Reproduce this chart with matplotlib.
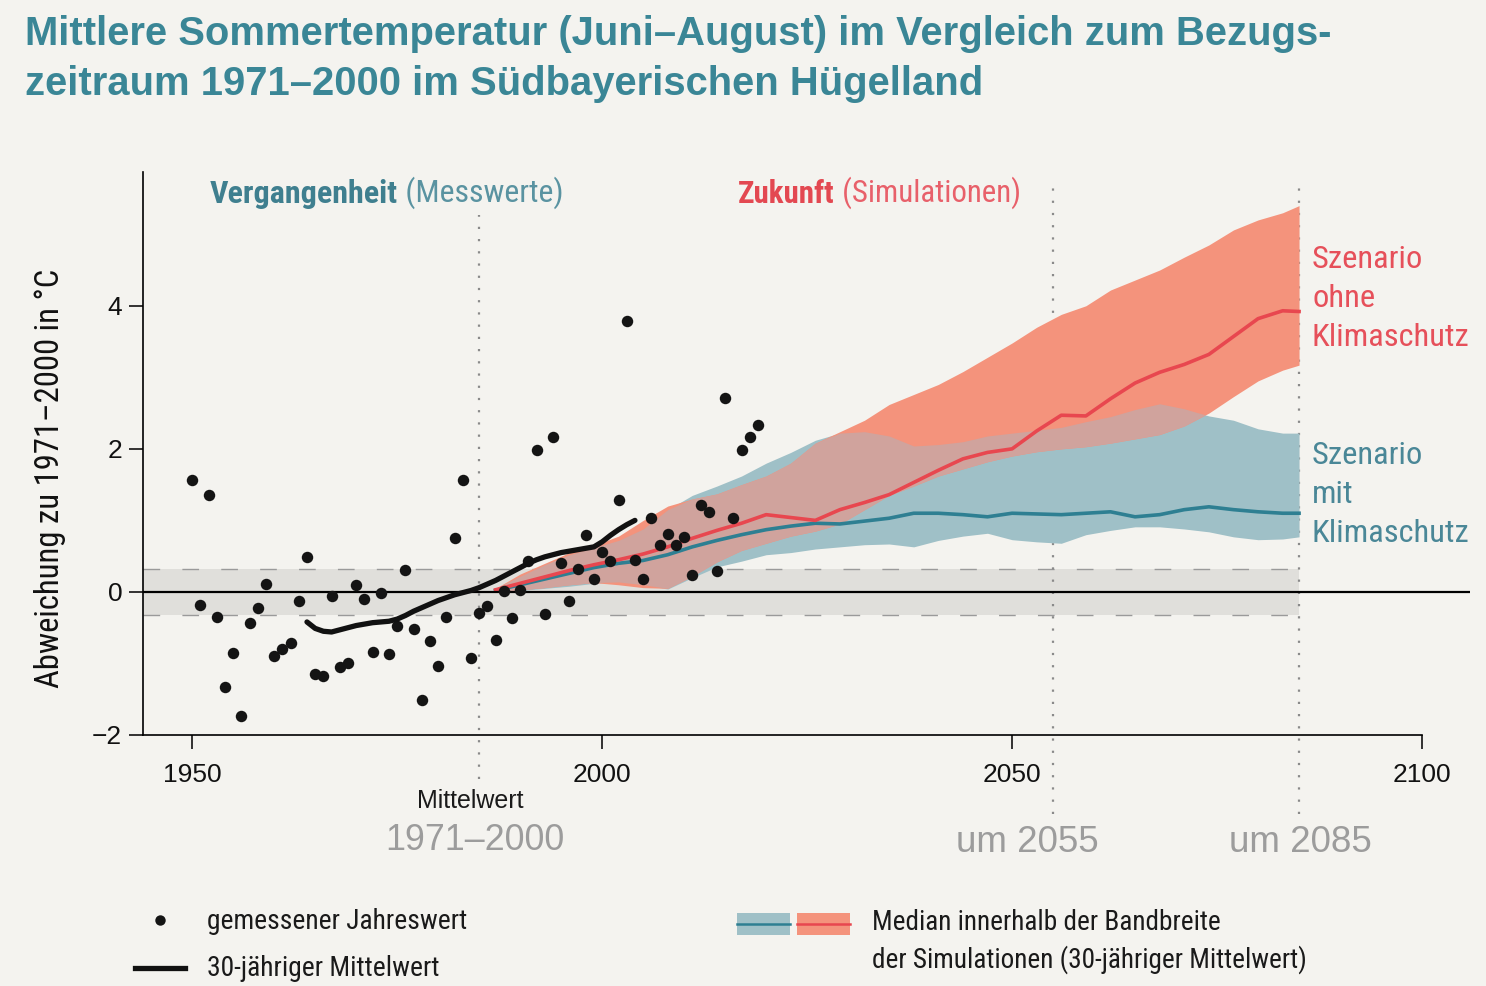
import numpy as np
import matplotlib
matplotlib.use("Agg")
import matplotlib.pyplot as plt
from matplotlib import font_manager
from matplotlib.patches import Rectangle

# measured summer values (deviation from 1971-2000, degC)
years = list(range(1950, 2020))
values = [1.57, -0.18, 1.36, -0.35, -1.33, -0.85, -1.73, -0.44, -0.23, 0.11,
          -0.89, -0.80, -0.71, -0.12, 0.49, -1.15, -1.17, -0.05, -1.05, -1.00,
          0.10, -0.10, -0.84, -0.01, -0.87, -0.48, 0.31, -0.52, -1.51, -0.69,
          -1.04, -0.35, 0.75, 1.56, -0.92, -0.29, -0.20, -0.67, 0.01, -0.37,
          0.03, 0.43, 1.98, -0.31, 2.17, 0.40, -0.12, 0.32, 0.80, 0.18,
          0.56, 0.43, 1.28, 3.79, 0.45, 0.18, 1.04, 0.66, 0.81, 0.66,
          0.77, 0.23, 1.21, 1.12, 0.29, 2.71, 1.04, 1.99, 2.17, 2.34]

# 30-year running mean
mean_years = list(range(1964, 2005))
mean_vals = [-0.42, -0.51, -0.55, -0.56, -0.53, -0.50, -0.47, -0.45, -0.43, -0.42,
             -0.41, -0.38, -0.33, -0.27, -0.22, -0.17, -0.12, -0.08, -0.04, -0.01,
             0.02, 0.06, 0.11, 0.16, 0.22, 0.28, 0.34, 0.40, 0.45, 0.49,
             0.52, 0.55, 0.57, 0.59, 0.61, 0.63, 0.70, 0.79, 0.87, 0.94, 1.00]

# simulations
sim_years = [1987, 1990, 1993, 1996, 1999, 2002, 2005, 2008, 2011, 2014, 2017, 2020,
             2023, 2026, 2029, 2032, 2035, 2038, 2041, 2044, 2047, 2050, 2053, 2056,
             2059, 2062, 2065, 2068, 2071, 2074, 2077, 2080, 2083, 2085]
# ohne Klimaschutz
red_med = [0.03, 0.12, 0.21, 0.30, 0.38, 0.45, 0.53, 0.63, 0.75, 0.86, 0.96, 1.08,
           1.04, 1.00, 1.15, 1.25, 1.36, 1.53, 1.70, 1.86, 1.95, 2.00, 2.25, 2.47,
           2.46, 2.70, 2.92, 3.07, 3.18, 3.32, 3.57, 3.82, 3.93, 3.92]
red_hi = [0.05, 0.25, 0.40, 0.55, 0.65, 0.78, 1.00, 1.20, 1.30, 1.37, 1.50, 1.62,
          1.80, 2.08, 2.24, 2.40, 2.62, 2.76, 2.90, 3.08, 3.28, 3.48, 3.70, 3.88,
          4.00, 4.22, 4.36, 4.50, 4.68, 4.85, 5.06, 5.20, 5.30, 5.40]
red_lo = [0.00, 0.03, 0.06, 0.10, 0.13, 0.10, 0.06, 0.05, 0.22, 0.42, 0.58, 0.68,
          0.78, 0.85, 0.95, 1.15, 1.35, 1.48, 1.62, 1.72, 1.82, 1.90, 1.96, 2.00,
          2.03, 2.08, 2.14, 2.20, 2.32, 2.50, 2.73, 2.95, 3.10, 3.17]
# mit Klimaschutz
blue_med = [0.02, 0.10, 0.18, 0.26, 0.34, 0.40, 0.44, 0.52, 0.63, 0.72, 0.80, 0.87,
            0.92, 0.96, 0.95, 0.99, 1.03, 1.10, 1.10, 1.08, 1.05, 1.10, 1.09, 1.08,
            1.10, 1.12, 1.05, 1.08, 1.15, 1.19, 1.15, 1.12, 1.10, 1.10]
blue_hi = [0.05, 0.22, 0.38, 0.52, 0.62, 0.72, 0.88, 1.15, 1.35, 1.48, 1.62, 1.80,
           1.95, 2.12, 2.22, 2.24, 2.18, 2.04, 2.06, 2.10, 2.18, 2.22, 2.26, 2.30,
           2.38, 2.45, 2.55, 2.63, 2.56, 2.46, 2.40, 2.28, 2.22, 2.22]
blue_lo = [0.00, 0.02, 0.05, 0.08, 0.12, 0.14, 0.10, 0.04, 0.20, 0.35, 0.43, 0.52,
           0.55, 0.60, 0.63, 0.66, 0.67, 0.63, 0.72, 0.78, 0.82, 0.73, 0.70, 0.68,
           0.80, 0.86, 0.91, 0.91, 0.88, 0.84, 0.77, 0.73, 0.74, 0.77]

ref_band = 0.32  # natural variability band around the 1971-2000 mean

W, H = 1486, 986
bg = "#f4f3ef"
teal = "#3a8696"
teal_txt = "#4a8797"
red_txt = "#e6505a"
grey_txt = "#9c9c9c"

installed = {f.name for f in font_manager.fontManager.ttflist}
narrow = None
for name in ["Liberation Sans Narrow", "Roboto Condensed", "Open Sans Condensed", "DejaVu Sans Condensed"]:
    if name in installed:
        narrow = name
        break
shrink = 1.0
if narrow is None:
    narrow = "Liberation Sans"
    shrink = 0.84
cond = [narrow, "DejaVu Sans"]
reg = ["Liberation Sans", "DejaVu Sans"]

def fx(px):
    return px / W

def fy(py):
    return 1 - py / H

fig = plt.figure(figsize=(W / 100, H / 100), dpi=100, facecolor=bg)
ax = fig.add_axes([fx(143), fy(735), (1470 - 143) / W, (735 - 172) / H])
ax.set_facecolor("none")
ax.set_xlim(1944.0, 2105.85)
ax.set_ylim(-2.0, 5.87)

# reference band
ax.fill_between([1944, 2085], -ref_band, ref_band, color="#e0dfdb", lw=0, zorder=1)
for v in (-ref_band, ref_band):
    ax.plot([1944, 2085], [v, v], color="#9a9a9a", lw=1.0, dashes=(12, 16), zorder=1.5)

x = np.array(sim_years)
bl, bh = np.array(blue_lo), np.array(blue_hi)
rl, rh = np.array(red_lo), np.array(red_hi)
ax.fill_between(x, bl, bh, color="#9fc0c7", lw=0, zorder=2)
ax.fill_between(x, rl, rh, color="#f4937c", lw=0, zorder=2.1)
olo, ohi = np.maximum(bl, rl), np.minimum(bh, rh)
ax.fill_between(x, olo, ohi, where=olo < ohi, interpolate=True, color="#d0a39d", lw=0, zorder=2.2)

ax.plot(x, blue_med, color="#2e7f92", lw=2.6, zorder=3)
ax.plot(x, red_med, color="#e8474f", lw=2.6, zorder=3.1)

ax.axhline(0, color="black", lw=1.6, zorder=3.5)

ax.scatter(years, values, s=68, color="#141414", lw=0, zorder=4)
ax.plot(mean_years, mean_vals, color="#111111", lw=3.8, solid_capstyle="round", zorder=4.5)

# time markers
for yr, top, bottom in [(1985, 5.27, -2.62), (2055, 5.69, -3.1), (2085, 5.76, -3.1)]:
    ax.plot([yr, yr], [bottom, top], color="#8a8a8a", lw=1.6, dashes=(1, 4.5),
            clip_on=False, zorder=1.6)

for s in ["top", "right"]:
    ax.spines[s].set_visible(False)
ax.spines["bottom"].set_bounds(1944, 2100)
for s in ["left", "bottom"]:
    ax.spines[s].set_linewidth(1.2)
ax.set_xticks([1950, 2000, 2050, 2100])
ax.set_yticks([-2, 0, 2, 4])
ax.set_yticklabels(["\u22122", "0", "2", "4"])
ax.tick_params(axis="both", direction="out", length=10, width=1.2, labelsize=19, colors="#111111")
ax.tick_params(axis="x", pad=10)
ax.tick_params(axis="y", pad=5)
for lab in ax.get_xticklabels() + ax.get_yticklabels():
    lab.set_family(reg)

fig.text(fx(50), fy(478), "Abweichung zu 1971\u20132000 in \u00b0C", rotation=90,
         ha="center", va="center", fontsize=23.5 * shrink, family=cond, color="#111111")

# title
fig.text(fx(25), fy(45), "Mittlere Sommertemperatur (Juni\u2013August) im Vergleich zum Bezugs-",
         fontsize=28.8, fontweight="bold", color=teal, family=reg, va="baseline")
fig.text(fx(25), fy(95), "zeitraum 1971\u20132000 im S\u00fcdbayerischen H\u00fcgelland",
         fontsize=28.8, fontweight="bold", color=teal, family=reg, va="baseline")

# section headers
t1 = fig.text(fx(210), fy(203), "Vergangenheit", fontsize=23 * shrink, fontweight="bold",
              color="#3f7f8f", family=cond, va="baseline")
ax.annotate(" (Messwerte)", xy=(1, 0), xycoords=t1, va="bottom", ha="left",
            fontsize=23 * shrink, color="#5a93a1", family=cond, annotation_clip=False)
t2 = fig.text(fx(738), fy(203), "Zukunft", fontsize=22.2 * shrink, fontweight="bold",
              color="#e34851", family=cond, va="baseline")
ax.annotate(" (Simulationen)", xy=(1, 0), xycoords=t2, va="bottom", ha="left",
            fontsize=22.2 * shrink, color="#e8606a", family=cond, annotation_clip=False)

for txt, base in zip(["Szenario", "ohne", "Klimaschutz"], [268, 307, 346]):
    fig.text(fx(1312), fy(base), txt, fontsize=23.4 * shrink, color=red_txt, family=cond, va="baseline")
for txt, base in zip(["Szenario", "mit", "Klimaschutz"], [464, 503, 542]):
    fig.text(fx(1312), fy(base), txt, fontsize=23.4 * shrink, color=teal_txt, family=cond, va="baseline")

fig.text(fx(470), fy(808), "Mittelwert", fontsize=18, family=reg, color="#1a1a1a", ha="center", va="baseline")
fig.text(fx(475), fy(850), "1971\u20132000", fontsize=25.8, family=reg, color=grey_txt, ha="center", va="baseline")
fig.text(fx(1027), fy(852), "um 2055", fontsize=26.5, family=reg, color=grey_txt, ha="center", va="baseline")
fig.text(fx(1300), fy(852), "um 2085", fontsize=26.5, family=reg, color=grey_txt, ha="center", va="baseline")

# legend
lay = fig.add_axes([0, 0, 1, 1])
lay.set_xlim(0, W)
lay.set_ylim(H, 0)
lay.axis("off")
lay.plot([160], [920], "o", ms=7.5, color="#141414", mew=0)
lay.plot([135, 185], [968, 968], color="#111111", lw=3.8)
lay.add_patch(Rectangle((737, 913), 53, 22, color="#9fc0c7", lw=0))
lay.add_patch(Rectangle((797, 913), 53, 22, color="#f4937c", lw=0))
lay.plot([737, 790], [924, 924], color="#2e7f92", lw=1.8)
lay.plot([797, 850], [924, 924], color="#e8474f", lw=1.8)
lay.text(207, 929, "gemessener Jahreswert", fontsize=19.8 * shrink, family=cond, color="#1a1a1a", va="baseline")
lay.text(207, 976, "30-j\u00e4hriger Mittelwert", fontsize=19.8 * shrink, family=cond, color="#1a1a1a", va="baseline")
lay.text(872, 930, "Median innerhalb der Bandbreite", fontsize=19.6 * shrink, family=cond, color="#1a1a1a", va="baseline")
lay.text(872, 968, "der Simulationen (30-j\u00e4hriger Mittelwert)", fontsize=19.6 * shrink, family=cond,
         color="#1a1a1a", va="baseline")

fig.savefig("out.png", dpi=100, facecolor=bg)
